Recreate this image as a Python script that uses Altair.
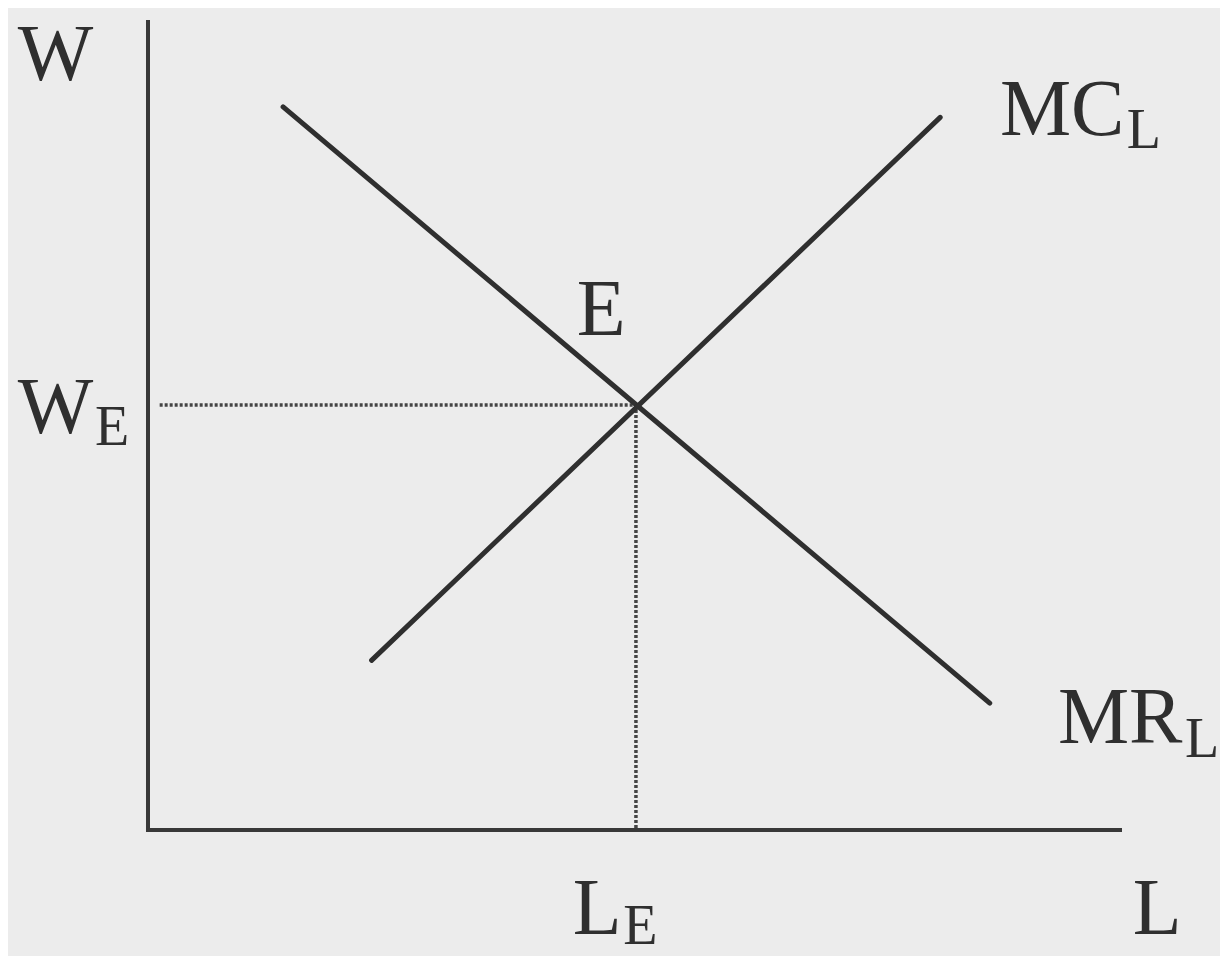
import altair as alt
import pandas as pd

# ---- values (chart units: L across 0..100, W up 0..100) ----
axis_names = ["W-axis", "L-axis"]
axis_L = [0.0, 0.0]
axis_W = [100.0, 0.0]
axis_L2 = [0.0, 100.0]
axis_W2 = [0.0, 0.0]

curve_names = ["MR_L", "MC_L"]
curve_L = [13.9, 23.0]
curve_W = [89.5, 21.0]
curve_L2 = [86.6, 81.5]
curve_W2 = [15.7, 88.2]

eq_L = 50.2   # L_E
eq_W = 52.6   # W_E
guide_start_L = 1.2

main_labels = ["W", "W", "MC", "MR", "E", "L", "L"]
main_L = [-13.4, -13.4, 87.65, 93.62, 44.1, 43.7, 101.3]
main_W = [92.8, 49.1, 86.0, 10.8, 61.3, -12.87, -12.87]

sub_labels = ["E", "L", "L", "E"]
sub_L = [-5.45, 100.7, 106.69, 48.9]
sub_W = [47.6, 84.4, 9.0, -14.11]

# ---- tables ----
axes_df = pd.DataFrame({"name": axis_names, "L": axis_L, "W": axis_W,
                        "L2": axis_L2, "W2": axis_W2})
curves_df = pd.DataFrame({"name": curve_names, "L": curve_L, "W": curve_W,
                          "L2": curve_L2, "W2": curve_W2})
guides_df = pd.DataFrame({"name": ["hguide", "vguide"],
                          "L": [guide_start_L, eq_L], "W": [eq_W, eq_W],
                          "L2": [eq_L, eq_L], "W2": [eq_W, 0.0]})
main_df = pd.DataFrame({"label": main_labels, "L": main_L, "W": main_W})
sub_df = pd.DataFrame({"label": sub_labels, "L": sub_L, "W": sub_W})

xs = alt.Scale(domain=[-14.403, 110.288], nice=False, zero=False)
ys = alt.Scale(domain=[-15.594, 101.733], nice=False, zero=False)

ink = "#2f2f2f"

def seg(df, **mark):
    return alt.Chart(df).mark_rule(**mark).encode(
        x=alt.X("L:Q", scale=xs, axis=None),
        y=alt.Y("W:Q", scale=ys, axis=None),
        x2="L2:Q",
        y2="W2:Q",
    )

axes_layer = seg(axes_df, color="#383838", strokeWidth=4, strokeCap="square")
curves_layer = seg(curves_df, color=ink, strokeWidth=5, strokeCap="round")
guides_layer = seg(guides_df, color="#444444", strokeWidth=3.5, strokeDash=[3, 2])

def txt(df, size):
    return alt.Chart(df).mark_text(
        font="Liberation Serif", fontSize=size, color=ink,
        align="left", baseline="alphabetic", clip=False,
    ).encode(
        x=alt.X("L:Q", scale=xs, axis=None),
        y=alt.Y("W:Q", scale=ys, axis=None),
        text="label:N",
    )

chart = alt.layer(
    guides_layer, axes_layer, curves_layer, txt(main_df, 80), txt(sub_df, 56)
).properties(
    width=1212, height=948,
    autosize=alt.AutoSizeParams(type="none"),
    padding=0,
    background="#ececec",
).configure_view(stroke=None)

chart.save("out.html", embed_options={"renderer": "svg", "actions": False})
